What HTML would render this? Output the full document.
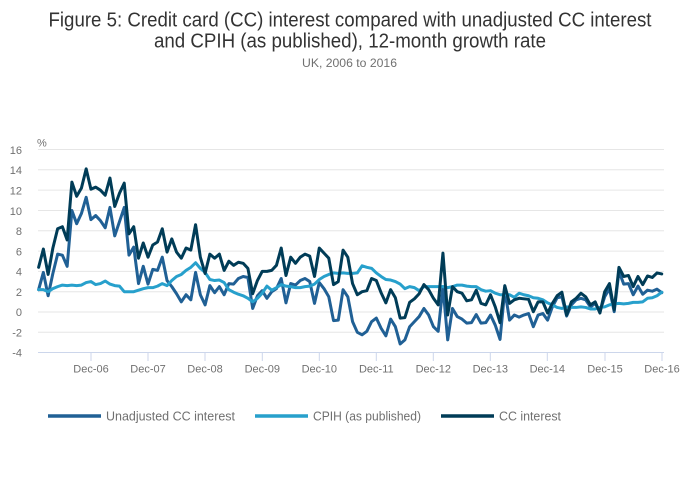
<!DOCTYPE html>
<html><head><meta charset="utf-8"><style>
html,body{margin:0;padding:0;background:#fff;}
svg{display:block;font-family:"Liberation Sans",Arial,sans-serif;}
</style></head><body>
<svg width="700" height="502" viewBox="0 0 700 502" xmlns="http://www.w3.org/2000/svg">
<rect width="700" height="502" fill="#fff"/>
<text x="350" y="26.3" font-size="20" fill="#333" text-anchor="middle" textLength="603" lengthAdjust="spacingAndGlyphs">Figure 5: Credit card (CC) interest compared with unadjusted CC interest</text>
<text x="350" y="47.7" font-size="20" fill="#333" text-anchor="middle" textLength="392" lengthAdjust="spacingAndGlyphs">and CPIH (as published), 12-month growth rate</text>
<text x="349.5" y="67" font-size="11.5" fill="#707070" text-anchor="middle" textLength="95" lengthAdjust="spacingAndGlyphs">UK, 2006 to 2016</text>
<text x="37" y="146.5" font-size="11" fill="#707070">%</text>
<g stroke="#e6e6e6" stroke-width="1">
<line x1="38" x2="664" y1="149.5" y2="149.5"/>
<line x1="38" x2="664" y1="169.8" y2="169.8"/>
<line x1="38" x2="664" y1="190.1" y2="190.1"/>
<line x1="38" x2="664" y1="210.5" y2="210.5"/>
<line x1="38" x2="664" y1="230.8" y2="230.8"/>
<line x1="38" x2="664" y1="251.1" y2="251.1"/>
<line x1="38" x2="664" y1="271.4" y2="271.4"/>
<line x1="38" x2="664" y1="291.7" y2="291.7"/>
<line x1="38" x2="664" y1="312" y2="312"/>
<line x1="38" x2="664" y1="332.3" y2="332.3"/>
</g>
<line x1="38" x2="664" y1="352.5" y2="352.5" stroke="#ccd6eb" stroke-width="1"/>
<g stroke="#ccd6eb" stroke-width="1">
<line x1="91" x2="91" y1="352" y2="361"/>
<line x1="148" x2="148" y1="352" y2="361"/>
<line x1="205" x2="205" y1="352" y2="361"/>
<line x1="262.3" x2="262.3" y1="352" y2="361"/>
<line x1="319.3" x2="319.3" y1="352" y2="361"/>
<line x1="376.3" x2="376.3" y1="352" y2="361"/>
<line x1="433.3" x2="433.3" y1="352" y2="361"/>
<line x1="490.3" x2="490.3" y1="352" y2="361"/>
<line x1="547.3" x2="547.3" y1="352" y2="361"/>
<line x1="605" x2="605" y1="352" y2="361"/>
<line x1="662" x2="662" y1="352" y2="361"/>
</g>
<g font-size="11" fill="#707070" text-anchor="end">
<text x="22" y="154">16</text>
<text x="22" y="174">14</text>
<text x="22" y="194.5">12</text>
<text x="22" y="215">10</text>
<text x="22" y="235">8</text>
<text x="22" y="255.5">6</text>
<text x="22" y="275.5">4</text>
<text x="22" y="296">2</text>
<text x="22" y="316">0</text>
<text x="22" y="336.5">-2</text>
<text x="22" y="356.5">-4</text>
</g>
<g font-size="11" fill="#707070" text-anchor="middle">
<text x="91" y="372.3">Dec-06</text>
<text x="148" y="372.3">Dec-07</text>
<text x="205" y="372.3">Dec-08</text>
<text x="262.3" y="372.3">Dec-09</text>
<text x="319.3" y="372.3">Dec-10</text>
<text x="376.3" y="372.3">Dec-11</text>
<text x="433.3" y="372.3">Dec-12</text>
<text x="490.3" y="372.3">Dec-13</text>
<text x="547.3" y="372.3">Dec-14</text>
<text x="605" y="372.3">Dec-15</text>
<text x="662" y="372.3">Dec-16</text>
</g>
<g transform="translate(38.6,312) scale(4.757,10.15)" fill="none" stroke-width="3" stroke-linejoin="round" stroke-linecap="round">
<polyline vector-effect="non-scaling-stroke" stroke="#206095" points="0,-2.2 1,-3.9 2,-1.6 3,-3.8 4,-5.7 5,-5.6 6,-4.5 7,-10 8,-8.7 9,-9.7 10,-11.3 11,-9.1 12,-9.5 13,-9 14,-8.3 15,-10.3 16,-7.5 17,-8.9 18,-10.3 19,-5.6 20,-6.4 21,-2.8 22,-4.5 23,-2.75 24,-4.2 25,-4.1 26,-5.4 27,-3.1 28,-2.5 29,-1.8 30,-1 31,-1.7 32,-1.2 33,-3.9 34,-1.7 35,-0.7 36,-2.6 37,-1.9 38,-2.5 39,-1.7 40,-2.8 41,-2.75 42,-3.3 43,-3.5 44,-3.4 45,-0.35 46,-1.6 47,-2.1 48,-1.35 49,-2 50,-2.3 51,-3.3 52,-0.9 53,-2.8 54,-2.65 55,-3.1 56,-3.3 57,-3 58,-0.85 59,-2.9 60,-2.3 61,-1.5 62,0.85 63,0.8 64,-2.2 65,-1.5 66,0.95 67,2 68,2.25 69,1.9 70,0.95 71,0.6 72,1.6 73,2.35 74,0.7 75,1.45 76,3.15 77,2.75 78,1.45 79,0.95 80,0.45 81,-0.35 82,0.3 83,1.45 84,1.9 85,-2.5 86,2.75 87,-0.35 88,0.45 89,0.7 90,1.1 91,1.05 92,0.25 93,1.1 94,1.05 95,0.3 96,1.3 97,2.7 98,-2.15 99,0.8 100,0.3 101,0.5 102,0.3 103,0.15 104,1.45 105,0.3 106,0.15 107,0.8 108,-0.5 109,-1.4 110,-1.5 111,0.4 112,-0.7 113,-1.2 114,-1.35 115,-1.2 116,-0.5 117,-0.85 118,-0.03 119,-1.5 120,-2.3 121,-0.03 122,-4 123,-2.75 124,-2.8 125,-1.7 126,-2.55 127,-1.75 128,-2.15 129,-2.05 130,-2.25 131,-1.9"/>
<polyline vector-effect="non-scaling-stroke" stroke="#27a0cc" points="0,-2.2 1,-2.2 2,-2 3,-2.3 4,-2.5 5,-2.65 6,-2.6 7,-2.65 8,-2.6 9,-2.65 10,-2.9 11,-3 12,-2.7 13,-2.8 14,-3.05 15,-2.75 16,-2.6 17,-2.55 18,-2 19,-2 20,-2 21,-2.15 22,-2.3 23,-2.4 24,-2.4 25,-2.55 26,-2.8 27,-2.6 28,-3.1 29,-3.5 30,-3.7 31,-4.1 32,-4.4 33,-4.85 34,-4.3 35,-3.9 36,-3.2 37,-3.1 38,-3.15 39,-2.9 40,-2.2 41,-1.95 42,-1.75 43,-1.6 44,-1.35 45,-1 46,-1.35 47,-1.85 48,-2.55 49,-2.15 50,-2.4 51,-2.7 52,-2.55 53,-2.5 54,-2.4 55,-2.4 56,-2.5 57,-2.55 58,-2.75 59,-3.2 60,-3.5 61,-3.7 62,-3.85 63,-3.8 64,-3.85 65,-3.8 66,-3.8 67,-3.85 68,-4.55 69,-4.4 70,-4.3 71,-3.85 72,-3.5 73,-3.2 74,-3.15 75,-3 76,-2.75 77,-2.3 78,-2.5 79,-2.4 80,-2.1 81,-2.5 82,-2.5 83,-2.5 84,-2.5 85,-2.5 86,-2.4 87,-2.5 88,-2.65 89,-2.65 90,-2.55 91,-2.5 92,-2.5 93,-2.2 94,-2.05 95,-2.1 96,-1.85 97,-1.7 98,-1.7 99,-1.7 100,-1.45 101,-1.85 102,-1.7 103,-1.6 104,-1.4 105,-1.35 106,-1.2 107,-0.9 108,-0.7 109,-0.45 110,-0.35 111,-0.5 112,-0.45 113,-0.45 114,-0.5 115,-0.45 116,-0.3 117,-0.3 118,-0.45 119,-0.5 120,-0.7 121,-0.8 122,-0.85 123,-0.8 124,-0.85 125,-0.95 126,-0.95 127,-1 128,-1.35 129,-1.4 130,-1.6 131,-1.95"/>
<polyline vector-effect="non-scaling-stroke" stroke="#003c57" points="0,-4.4 1,-6.2 2,-3.7 3,-6.3 4,-8.2 5,-8.4 6,-7.1 7,-12.8 8,-11.4 9,-12.2 10,-14.1 11,-12.1 12,-12.3 13,-12 14,-11.5 15,-13.2 16,-10.4 17,-11.7 18,-12.7 19,-7.7 20,-8.4 21,-5.3 22,-6.8 23,-5.4 24,-6.6 25,-6.9 26,-8.2 27,-5.9 28,-7.2 29,-5.9 30,-5.3 31,-6.3 32,-6.1 33,-8.6 34,-5.4 35,-3.8 36,-5.7 37,-5.3 38,-5.7 39,-4.1 40,-5 41,-4.6 42,-4.9 43,-4.8 44,-4.3 45,-1.8 46,-3.1 47,-4 48,-4 49,-4.1 50,-4.6 51,-6.3 52,-3.6 53,-5.4 54,-4.8 55,-5.4 56,-5.7 57,-5.5 58,-3.5 59,-6.3 60,-5.8 61,-5.3 62,-2.7 63,-3 64,-6.1 65,-5.4 66,-2.8 67,-1.7 68,-2 69,-2.1 70,-3.3 71,-3.1 72,-1.9 73,-0.9 74,-2.2 75,-1.4 76,0.6 77,0.55 78,-0.95 79,-1.3 80,-1.8 81,-2.7 82,-2.2 83,-1.35 84,-0.7 85,-5.8 86,0.3 87,-2.5 88,-2 89,-1.85 90,-1.1 91,-1.2 92,-2.15 93,-0.85 94,-0.7 95,-1.7 96,-0.5 97,1.05 98,-2.6 99,-0.85 100,-1.2 101,-1.35 102,-1.3 103,-1.25 104,-0.03 105,-1 106,-1 107,0.1 108,-0.85 109,-1.6 110,-1.95 111,0.3 112,-1 113,-1.35 114,-1.85 115,-1.5 116,-0.7 117,-1 118,0.1 119,-2 120,-2.8 121,-0.2 122,-4.4 123,-3.5 124,-3.6 125,-2.5 126,-3.5 127,-2.7 128,-3.55 129,-3.4 130,-3.85 131,-3.75"/>
</g>
<g stroke-width="3.5">
<line x1="48" x2="101" y1="416" y2="416" stroke="#206095"/>
<line x1="255" x2="308" y1="416" y2="416" stroke="#27a0cc"/>
<line x1="441" x2="494" y1="416" y2="416" stroke="#003c57"/>
</g>
<g font-size="12.5" fill="#707070">
<text x="106" y="420.5" textLength="129" lengthAdjust="spacingAndGlyphs">Unadjusted CC interest</text>
<text x="313" y="420.5" textLength="108" lengthAdjust="spacingAndGlyphs">CPIH (as published)</text>
<text x="499" y="420.5" textLength="62" lengthAdjust="spacingAndGlyphs">CC interest</text>
</g>
</svg>
</body></html>
